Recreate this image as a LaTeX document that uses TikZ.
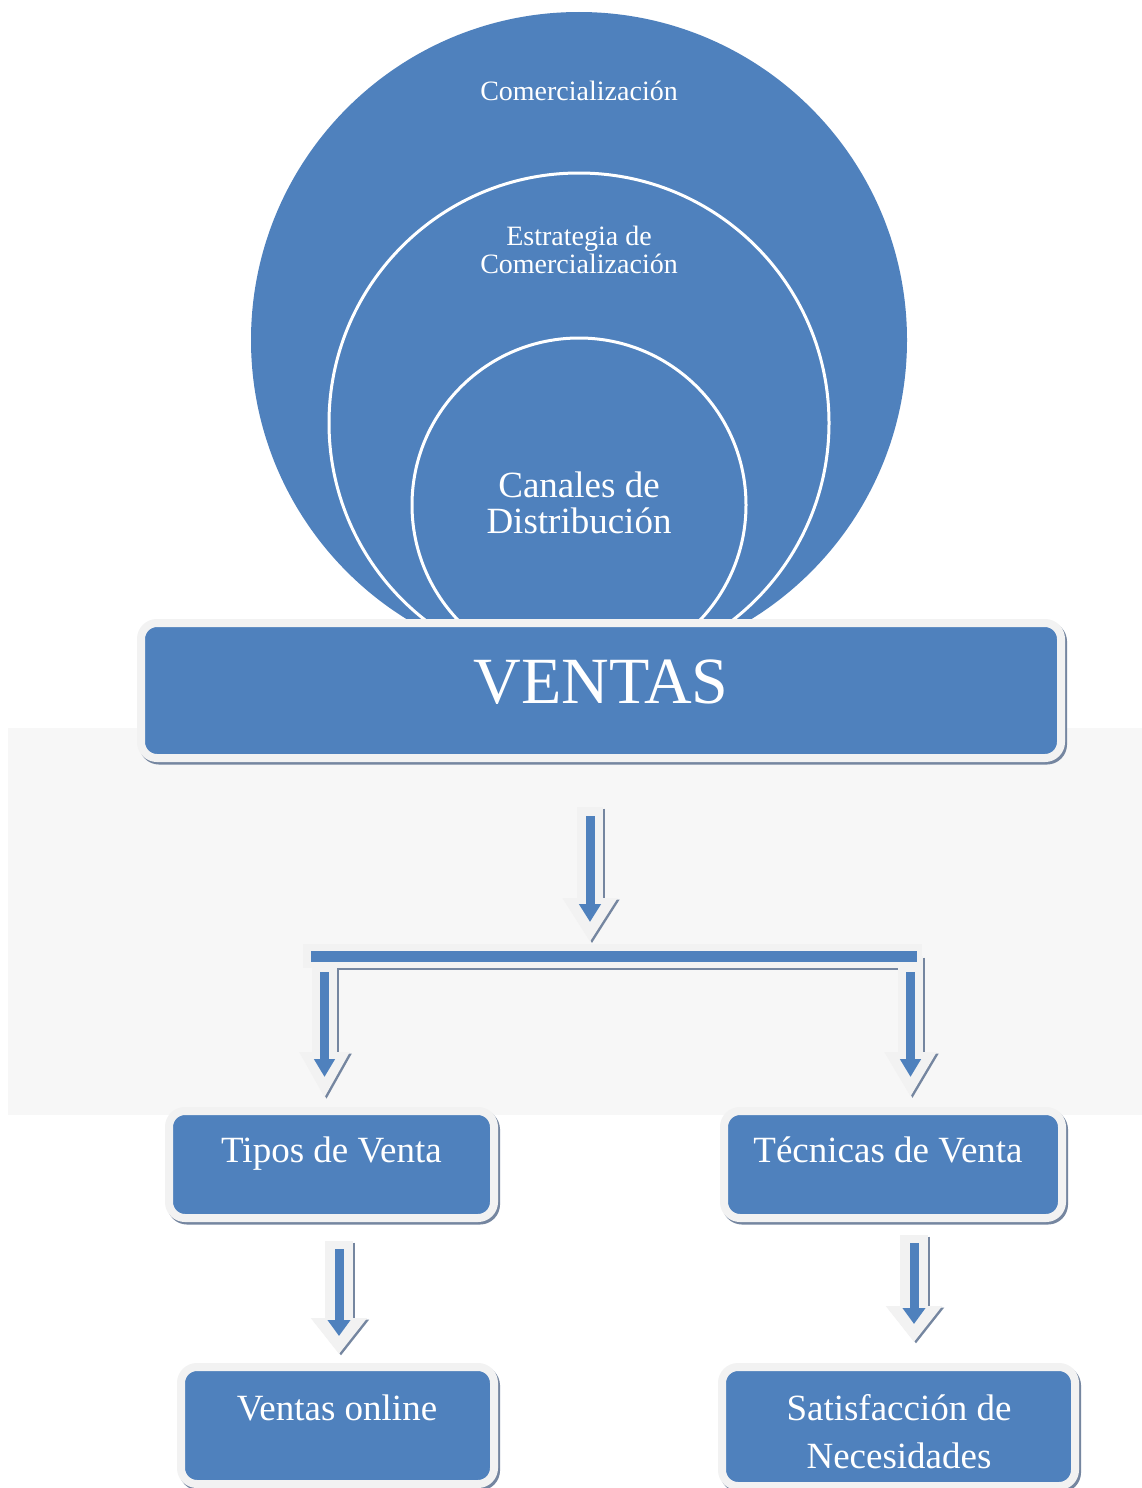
\documentclass[tikz,border=0pt]{standalone}
\usepackage{fontspec}
\setmainfont{Liberation Serif}
\usetikzlibrary{arrows.meta}
\definecolor{mblue}{HTML}{4F81BD}
\definecolor{lgray}{HTML}{F2F2F2}
\definecolor{bggray}{HTML}{F7F7F7}
\definecolor{shadowc}{HTML}{7586A0}
\begin{document}
\begin{tikzpicture}[x=1pt,y=-1pt,
  box/.style={draw=lgray, line width=8pt, fill=mblue, rounded corners=16pt, inner sep=0pt,
    preaction={draw=shadowc, line width=8pt, transform canvas={shift={(2pt,-2.5pt)}}}},
  btext/.style={text=white, inner sep=0pt, anchor=base, font=\fontsize{37}{40}\selectfont},
  ctext/.style={text=white, inner sep=0pt, anchor=base},
  ring/.style={fill=mblue, draw=white, line width=3pt},
  garrow/.style={draw=lgray, line width=#1},
  sarrow/.style={draw=shadowc, line width=#1},
  barrow/.style={draw=mblue, line width=9pt, -{Triangle[width=21pt,length=18pt]}},
  shadowshift/.style={transform canvas={shift={(2pt,-1.5pt)}}}
]
\useasboundingbox (0,0) rectangle (1142,1488);
\fill[white] (0,0) rectangle (1142,1488);
\fill[bggray] (8,728) rectangle (1142,1115);

% circles
\begin{scope}
\clip (0,0) rectangle (1142,625);
\fill[mblue] (579,340) circle[radius=328];
\draw[ring] (579,423) circle[radius=250];
\draw[ring] (579,505) circle[radius=167];
\end{scope}
\node[ctext, font=\fontsize{28}{30}\selectfont] (com) at (579,100) {Comercialización};
\node[ctext, font=\fontsize{28}{30}\selectfont] (est1) at (579,245) {Estrategia de};
\node[ctext, font=\fontsize{28}{30}\selectfont] (est2) at (579,273) {Comercialización};
\node[ctext, font=\fontsize{37}{40}\selectfont] (can1) at (579,497) {Canales de};
\node[ctext, font=\fontsize{37}{40}\selectfont] (can2) at (579,533) {Distribución};

% VENTAS box
\node[box, minimum width=920pt, minimum height=135pt] (ventas) at (601,690.5) {};
\node[ctext, font=\fontsize{66}{70}\selectfont] (ventasT) at (601,703) {VENTAS};

% arrow VENTAS -> bar
\coordinate (a1s) at (590,807);
\coordinate (a1e) at (590,942);
\draw[sarrow=26pt, -{Triangle[width=52pt,length=44pt]}, shadowshift] (a1s) -- (a1e);
\draw[garrow=26pt, -{Triangle[width=52pt,length=44pt]}] (a1s) -- (a1e);
\draw[barrow, shorten <=9pt, shorten >=20pt] (a1s) -- (a1e);

% bar with two arrows
\coordinate (bl) at (303,956);
\coordinate (br) at (922,956);
\coordinate (l1s) at (324.5,956);
\coordinate (l1e) at (324.5,1098);
\coordinate (r1s) at (910.5,956);
\coordinate (r1e) at (910.5,1097);
\draw[sarrow=24pt, shadowshift, shorten >=4pt, shorten <=8pt] (bl) -- (br);
\draw[sarrow=25pt, -{Triangle[width=47pt,length=46pt]}, shadowshift] (l1s) -- (l1e);
\draw[sarrow=25pt, -{Triangle[width=49pt,length=45pt]}, shadowshift] (r1s) -- (r1e);
\draw[garrow=24pt] (bl) -- (br);
\draw[garrow=25pt, -{Triangle[width=47pt,length=46pt]}] (l1s) -- (l1e);
\draw[garrow=25pt, -{Triangle[width=49pt,length=45pt]}] (r1s) -- (r1e);
\draw[draw=mblue, line width=11pt, shorten <=8pt, shorten >=5pt] (bl) -- (br);
\draw[barrow, -{Triangle[width=20pt,length=18pt]}, shorten <=16pt, shorten >=21pt] (l1s) -- (l1e);
\draw[barrow, -{Triangle[width=20pt,length=18pt]}, shorten <=16pt, shorten >=20pt] (r1s) -- (r1e);

% boxes
\node[box, minimum width=325pt, minimum height=107pt] (tipos) at (331.5,1164.5) {};
\node[btext] (tiposT) at (331.5,1162) {Tipos de Venta};
\node[box, minimum width=338pt, minimum height=107pt] (tecnicas) at (893,1164.5) {};
\node[btext] (tecnicasT) at (888,1162) {Técnicas de Venta};

% lower arrows
\coordinate (a3s) at (339,1241);
\coordinate (a3e) at (339,1354);
\draw[sarrow=28pt, -{Triangle[width=54pt,length=36pt]}, shadowshift] (a3s) -- (a3e);
\draw[garrow=28pt, -{Triangle[width=54pt,length=36pt]}] (a3s) -- (a3e);
\draw[barrow, -{Triangle[width=22pt,length=16pt]}, shorten <=8pt, shorten >=18pt] (a3s) -- (a3e);

\coordinate (a4s) at (914,1235);
\coordinate (a4e) at (914,1342);
\draw[sarrow=28pt, -{Triangle[width=54pt,length=36pt]}, shadowshift] (a4s) -- (a4e);
\draw[garrow=28pt, -{Triangle[width=54pt,length=36pt]}] (a4s) -- (a4e);
\draw[barrow, -{Triangle[width=22pt,length=16pt]}, shorten <=8pt, shorten >=18pt] (a4s) -- (a4e);

\node[box, minimum width=313pt, minimum height=117pt] (online) at (337.5,1425.5) {};
\node[btext] (onlineT) at (337,1420) {Ventas online};
\node[box, minimum width=353pt, minimum height=119pt] (satis) at (898.5,1426.5) {};
\node[btext] (satisT1) at (899,1420) {Satisfacción de};
\node[btext] (satisT2) at (899,1468) {Necesidades};
\end{tikzpicture}
\end{document}
